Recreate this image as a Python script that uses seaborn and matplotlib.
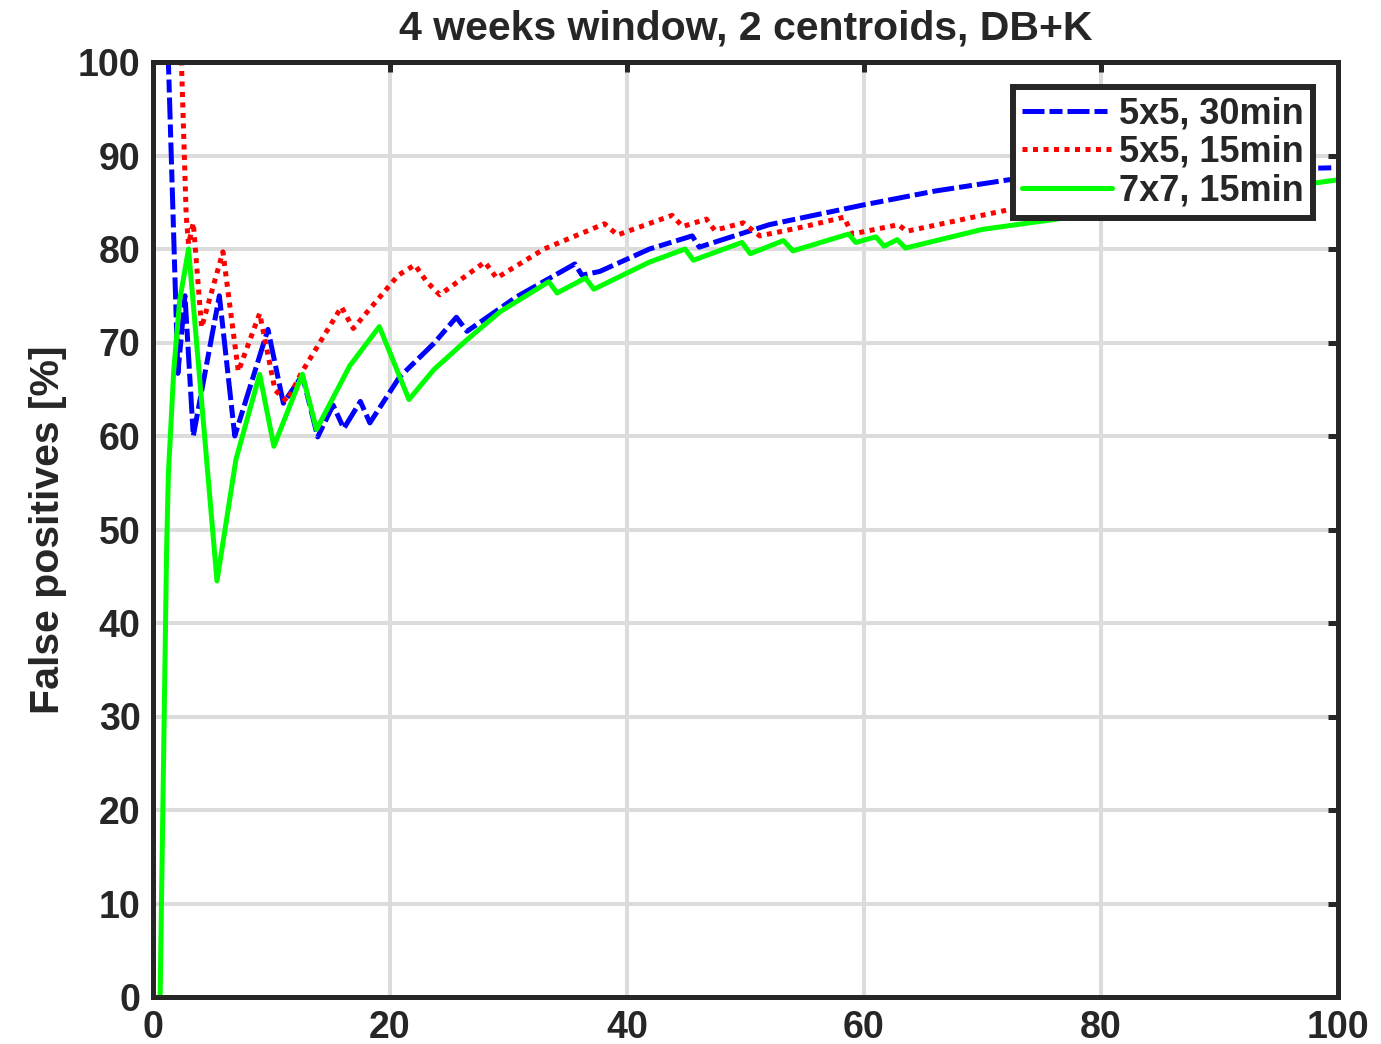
import matplotlib
matplotlib.use('Agg')
import matplotlib.pyplot as plt
import seaborn as sns

# series (x in %, y = false positives in %)
blue_label = '5x5, 30min'
blue_x = [0.5, 1.3, 2.1, 2.7, 3.4, 5.6, 6.9, 9.7, 11.0, 12.6, 13.9, 15.2, 16.1, 17.5, 18.3,
          20.8, 23.7, 25.6, 26.5, 30.7, 35.6, 36.2, 37.7, 41.9, 45.5, 46.1, 52.0, 59.9,
          66.0, 72.2, 80.0, 90.0, 100.0]
blue_y = [100, 100, 66.7, 75.0, 60.0, 75.0, 60.0, 71.4, 63.5, 66.5, 59.9, 63.3, 60.8, 63.7, 61.4,
          66.3, 69.9, 72.7, 71.2, 74.9, 78.4, 77.2, 77.6, 80.0, 81.4, 80.2, 82.6, 84.7,
          86.2, 87.4, 88.0, 88.4, 88.7]

red_label = '5x5, 15min'
red_x = [0.5, 2.4, 2.8, 3.0, 3.4, 4.1, 5.9, 7.2, 9.0, 10.3, 11.3, 12.5, 15.9, 16.9, 20.7,
         22.1, 23.1, 24.2, 28.0, 29.0, 33.0, 38.1, 39.2, 43.8, 44.7, 46.7, 47.4, 49.8, 51.2,
         55.0, 58.3, 59.0, 62.9, 63.6, 72.2, 80.0, 90.0]
red_y = [100, 100, 83.6, 80.5, 82.8, 71.6, 79.7, 66.9, 73.1, 64.9, 63.7, 66.7, 73.8, 71.5, 77.2,
         78.3, 76.5, 75.1, 78.6, 76.9, 80.0, 82.7, 81.5, 83.6, 82.4, 83.2, 82.0, 82.8, 81.4,
         82.4, 83.4, 81.6, 82.6, 81.9, 84.2, 85.5, 87.0]

green_label = '7x7, 15min'
green_x = [0.6, 1.15, 1.3, 1.75, 2.25, 3.0, 5.4, 7.0, 9.0, 10.2, 12.6, 13.8, 16.6, 19.1, 21.6,
           23.7, 26.5, 29.3, 33.4, 34.1, 36.5, 37.2, 41.9, 44.9, 45.6, 49.7, 50.4, 53.2, 54.0,
           58.7, 59.3, 61.0, 61.7, 62.8, 63.5, 70.0, 75.7, 85.0, 100.0]
green_y = [0, 48, 56, 67, 74.5, 80, 44.5, 57.5, 66.6, 58.9, 66.6, 60.7, 67.5, 71.7, 63.9,
           67.1, 70.3, 73.3, 76.5, 75.3, 76.9, 75.7, 78.6, 80.0, 78.8, 80.7, 79.5, 80.9, 79.8,
           81.6, 80.7, 81.3, 80.3, 81.0, 80.1, 82.1, 83.1, 84.8, 87.4]

x_ticks = [0, 20, 40, 60, 80, 100]
y_ticks = [0, 10, 20, 30, 40, 50, 60, 70, 80, 90, 100]

sns.set_style('white')
plt.rcParams['font.family'] = ['Liberation Sans', 'DejaVu Sans']
plt.rcParams['font.weight'] = 'bold'

edge = '#262626'
fig = plt.figure(figsize=(13.81, 10.44), dpi=100)
ax = fig.add_axes([153 / 1381, 47 / 1044, 1185 / 1381, 935 / 1044])

lw = 3.6
sns.lineplot(x=blue_x, y=blue_y, ax=ax, sort=False, estimator=None, color='#0000ff',
             linewidth=lw, linestyle=(0, (4.4, 1.0, 2.6, 1.0)), label=blue_label)
sns.lineplot(x=red_x, y=red_y, ax=ax, sort=False, estimator=None, color='#ff0000',
             linewidth=lw, linestyle=(0, (1.0, 1.1)), label=red_label)
sns.lineplot(x=green_x, y=green_y, ax=ax, sort=False, estimator=None, color='#00ff00',
             linewidth=lw, label=green_label)

ax.set_xlim(0, 100)
ax.set_ylim(0, 100)
ax.set_xticks(x_ticks)
ax.set_yticks(y_ticks)
ax.grid(True, color='#dcdcdc', linewidth=2.9)
ax.set_axisbelow(True)
for s in ax.spines.values():
    s.set_visible(True)
    s.set_color(edge)
    s.set_linewidth(3.6)
ax.tick_params(direction='in', length=7.5, width=3.6, color=edge, labelsize=27,
               labelcolor=edge, top=True, right=True, pad=9)

ax.set_title('4 weeks window, 2 centroids, DB+K', fontsize=29.5, fontweight='bold', pad=16)
ax.set_ylabel('False positives [%]', fontsize=29.5, fontweight='bold', color=edge, labelpad=8)
ax.set_xlabel('')

leg = ax.legend(loc='upper right', bbox_to_anchor=(0.979, 0.973), borderaxespad=0,
                fontsize=26, frameon=True, fancybox=False, handlelength=2.5,
                handletextpad=0.2, labelspacing=0.1, borderpad=0.25)
leg.get_frame().set_edgecolor(edge)
leg.get_frame().set_linewidth(4.3)
leg.get_frame().set_alpha(1)
for t in leg.get_texts():
    t.set_fontweight('bold')

fig.savefig('out.png', dpi=100)
